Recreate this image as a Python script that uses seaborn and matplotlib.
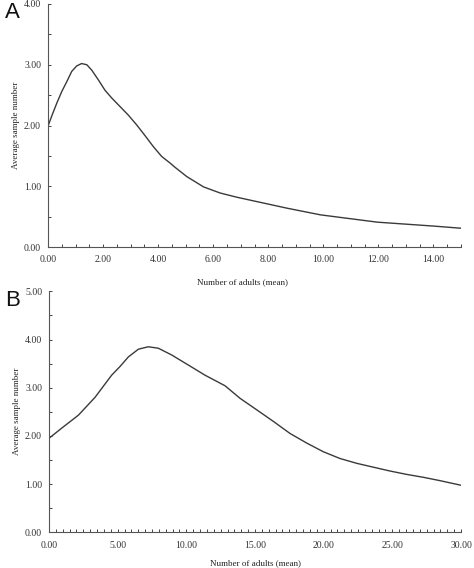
import numpy as np
import pandas as pd
import matplotlib
matplotlib.use("Agg")
import matplotlib.pyplot as plt
from matplotlib.ticker import MultipleLocator, FormatStrFormatter
import seaborn as sns

# panel A: mean adults vs average sample number
adults_a = [0.0, 0.13, 0.32, 0.50, 0.68, 0.86, 1.04, 1.22, 1.41, 1.59, 1.83, 2.07, 2.32,
            2.62, 2.92, 3.22, 3.53, 3.83, 4.13, 4.44, 4.62, 5.04, 5.65, 6.25, 6.86, 7.77,
            8.68, 9.9, 11.96, 14.02, 15.0]
asn_a = [1.99, 2.15, 2.37, 2.56, 2.72, 2.89, 2.98, 3.02, 3.00, 2.91, 2.75, 2.58, 2.45,
         2.31, 2.17, 2.01, 1.83, 1.65, 1.49, 1.38, 1.31, 1.16, 0.99, 0.89, 0.82, 0.73,
         0.64, 0.53, 0.41, 0.345, 0.31]

# panel B
adults_b = [0.0, 0.92, 2.14, 3.35, 4.56, 5.17, 5.78, 6.51, 7.23, 7.96, 8.93, 10.15, 11.36,
            12.82, 13.91, 15.13, 16.34, 17.55, 18.77, 19.98, 21.19, 22.41, 23.62, 24.84,
            26.05, 27.26, 28.48, 30.0]
asn_b = [1.95, 2.16, 2.43, 2.80, 3.26, 3.44, 3.64, 3.80, 3.85, 3.82, 3.68, 3.47, 3.26,
         3.04, 2.78, 2.54, 2.30, 2.05, 1.85, 1.67, 1.53, 1.43, 1.35, 1.27,
         1.20, 1.14, 1.07, 0.975]

panels = [
    ("A", adults_a, asn_a, 15, 4, 2, [0.1013, 0.565, 0.8713, 0.428], -0.128),
    ("B", adults_b, asn_b, 30, 5, 5, [0.1034, 0.063, 0.8692, 0.424], -0.11),
]

sns.set_theme(style="ticks")
plt.rcParams["font.family"] = ["Liberation Serif", "DejaVu Serif"]

fig = plt.figure(figsize=(4.74, 5.68), dpi=100)

for letter, xs, ys, xmax, ymax, xstep, rect, xlab_y in panels:
    ax = fig.add_axes(rect)
    df = pd.DataFrame({"adults": xs, "asn": ys})
    sns.lineplot(data=df, x="adults", y="asn", ax=ax, color="#3a3a3a", linewidth=1.0)
    ax.set_xlim(0, xmax)
    ax.set_ylim(0, ymax)
    ax.xaxis.set_major_locator(MultipleLocator(xstep))
    ax.xaxis.set_minor_locator(MultipleLocator(0.5))
    ax.yaxis.set_major_locator(MultipleLocator(1))
    ax.yaxis.set_minor_locator(MultipleLocator(0.5))
    ax.xaxis.set_major_formatter(FormatStrFormatter("%.2f"))
    ax.yaxis.set_major_formatter(FormatStrFormatter("%.2f"))
    ax.tick_params(which="both", direction="in", length=2.5, width=0.7,
                   labelsize=7, colors="#444444", labelcolor="#333333")
    ax.tick_params(axis="x", pad=6)
    ax.tick_params(axis="y", pad=5)
    sns.despine(ax=ax)
    for s in ["left", "bottom"]:
        ax.spines[s].set_color("#555555")
        ax.spines[s].set_linewidth(0.8)
    ax.set_xlabel("Number of adults (mean)", fontsize=6.5, color="#222222")
    ax.set_ylabel("Average sample number", fontsize=6.5, color="#222222")
    ax.xaxis.set_label_coords(0.47 if letter == "A" else 0.5, xlab_y)
    ax.yaxis.set_label_coords(-0.068, 0.5)
    fig.text(0.01, rect[1] + rect[3] + 0.003, letter, fontsize=16,
             family="Liberation Sans", va="top", ha="left", color="#111111")

fig.savefig("out.png", dpi=100)
